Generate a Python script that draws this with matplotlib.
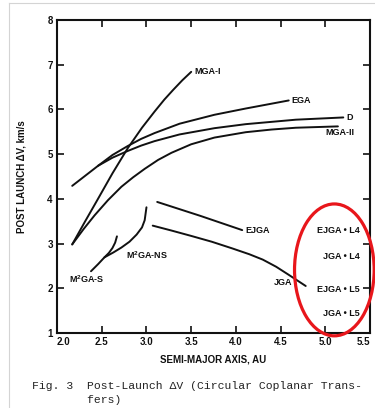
import numpy as np
import matplotlib
matplotlib.use('Agg')
import matplotlib.pyplot as plt
from matplotlib.patches import Ellipse

plt.rcParams['font.family'] = ['Liberation Sans', 'DejaVu Sans']
plt.rcParams['mathtext.fontset'] = 'custom'
plt.rcParams['mathtext.rm'] = 'Liberation Sans:bold'
plt.rcParams['mathtext.bf'] = 'Liberation Sans:bold'

# semi-major axis (AU) and post launch dV (km/s) for each transfer type
d_a = [2.17, 2.46, 2.62, 2.79, 2.94, 3.09, 3.37, 3.76, 4.11, 4.67, 5.20]
d_dv = [4.29, 4.74, 4.92, 5.07, 5.19, 5.29, 5.44, 5.58, 5.67, 5.77, 5.82]
ega_a = [2.46, 2.62, 2.79, 2.94, 3.09, 3.37, 3.76, 4.11, 4.59]
ega_dv = [4.74, 4.98, 5.18, 5.34, 5.47, 5.68, 5.88, 6.02, 6.20]
mga1_a = [2.17, 2.31, 2.45, 2.62, 2.79, 2.95, 3.09, 3.20, 3.30, 3.40, 3.50]
mga1_dv = [2.98, 3.48, 3.97, 4.57, 5.13, 5.59, 5.95, 6.22, 6.44, 6.65, 6.84]
mga2_a = [2.17, 2.30, 2.42, 2.57, 2.72, 2.85, 2.98, 3.13, 3.28, 3.50, 3.76, 4.11, 4.40, 4.67, 5.14]
mga2_dv = [2.98, 3.33, 3.63, 3.97, 4.27, 4.48, 4.67, 4.87, 5.03, 5.22, 5.37, 5.49, 5.55, 5.59, 5.62]
m2s_a = [2.38, 2.46, 2.53, 2.58, 2.62, 2.65, 2.67]
m2s_dv = [2.38, 2.54, 2.69, 2.79, 2.90, 3.02, 3.16]
m2ns_a = [2.53, 2.63, 2.72, 2.81, 2.89, 2.95, 2.98, 3.00]
m2ns_dv = [2.69, 2.80, 2.91, 3.04, 3.20, 3.36, 3.52, 3.81]
ejga_a = [3.12, 3.60, 4.07]
ejga_dv = [3.93, 3.62, 3.30]
jga_a = [3.07, 3.28, 3.50, 3.73, 3.96, 4.15, 4.30, 4.45, 4.59, 4.78]
jga_dv = [3.40, 3.29, 3.17, 3.04, 2.89, 2.76, 2.64, 2.48, 2.30, 2.05]

x_ticks = [2.0, 2.5, 3.0, 3.5, 4.0, 4.5, 5.0, 5.5]
y_ticks = [1, 2, 3, 4, 5, 6, 7, 8]
l_labels = ['EJGA \u2022 L4', 'JGA \u2022 L4', 'EJGA \u2022 L5', 'JGA \u2022 L5']
l_dv = [3.29, 2.71, 1.97, 1.44]

fig = plt.figure(figsize=(3.75, 4.08), dpi=100)
ax = fig.add_axes([0.152, 0.184, 0.835, 0.767])

curves = [(d_a, d_dv), (ega_a, ega_dv), (mga1_a, mga1_dv), (mga2_a, mga2_dv),
          (m2s_a, m2s_dv), (m2ns_a, m2ns_dv), (ejga_a, ejga_dv), (jga_a, jga_dv)]
for xs, ys in curves:
    ax.plot(xs, ys, color='#111111', lw=1.4, solid_capstyle='round',
            solid_joinstyle='round')

lab = dict(fontsize=6.5, fontweight='bold', color='#111111', va='center')
ax.text(mga1_a[-1] + 0.03, mga1_dv[-1], 'MGA-I', ha='left', **lab)
ax.text(ega_a[-1] + 0.03, ega_dv[-1], 'EGA', ha='left', **lab)
ax.text(d_a[-1] + 0.03, d_dv[-1], 'D', ha='left', **lab)
ax.text(5.0, 5.48, 'MGA-II', ha='left', **lab)
ax.text(ejga_a[-1] + 0.04, ejga_dv[-1], 'EJGA', ha='left', **lab)
ax.text(4.63, 2.13, 'JGA', ha='right', **lab)
ax.text(2.77, 2.75, r'M$^{2}$GA-NS', ha='left', **lab)
ax.text(2.13, 2.20, r'M$^{2}$GA-S', ha='left', **lab)

for t, v in zip(l_labels, l_dv):
    ax.text(5.38, v, t, ha='right', **lab)

ax.add_patch(Ellipse((5.10, 2.41), 0.89, 2.95, fill=False, edgecolor='#e8161b',
                     lw=2.3, clip_on=False, zorder=5))

ax.set_xlim(2.0, 5.5)
ax.set_ylim(1, 8)
ax.set_xticks(x_ticks)
ax.set_xticklabels(['%.1f' % v for v in x_ticks])
ax.set_yticks(y_ticks)
ax.tick_params(direction='in', length=5, width=1.2, top=True, right=True,
               labelsize=7, colors='#111111')
ax.tick_params(axis='x', pad=3)
ax.tick_params(axis='y', pad=3)
for t in ax.get_xticklabels() + ax.get_yticklabels():
    t.set_fontweight('bold')
ax.get_xticklabels()[0].set_ha('left')
ax.get_xticklabels()[-1].set_ha('right')
for s in ax.spines.values():
    s.set_linewidth(1.5)
    s.set_color('#111111')

ax.set_xlabel('SEMI-MAJOR AXIS, AU', fontsize=7, fontweight='bold', color='#111111')
ax.xaxis.set_label_coords(0.5, -0.068)
ax.set_ylabel('POST LAUNCH \u0394V, km/s', fontsize=7, fontweight='bold', color='#111111')
ax.yaxis.set_label_coords(-0.096, 0.5)

mono = ['Liberation Mono', 'DejaVu Sans Mono']
fig.text(32 / 375, 1 - 386 / 408, 'Fig. 3  Post-Launch \u0394V (Circular Coplanar Trans-',
         family=mono, fontsize=8.2, color='#222222', ha='left', va='center')
fig.text(32 / 375, 1 - 400 / 408, '        fers)',
         family=mono, fontsize=8.2, color='#222222', ha='left', va='center')

# thin page border
fig.add_artist(plt.Line2D([9 / 375, 9 / 375], [0, 1 - 3 / 408], color='#d4d4d4', lw=0.8))
fig.add_artist(plt.Line2D([9 / 375, 1], [1 - 3 / 408, 1 - 3 / 408], color='#d4d4d4', lw=0.8))

fig.savefig('out.png', dpi=100)
